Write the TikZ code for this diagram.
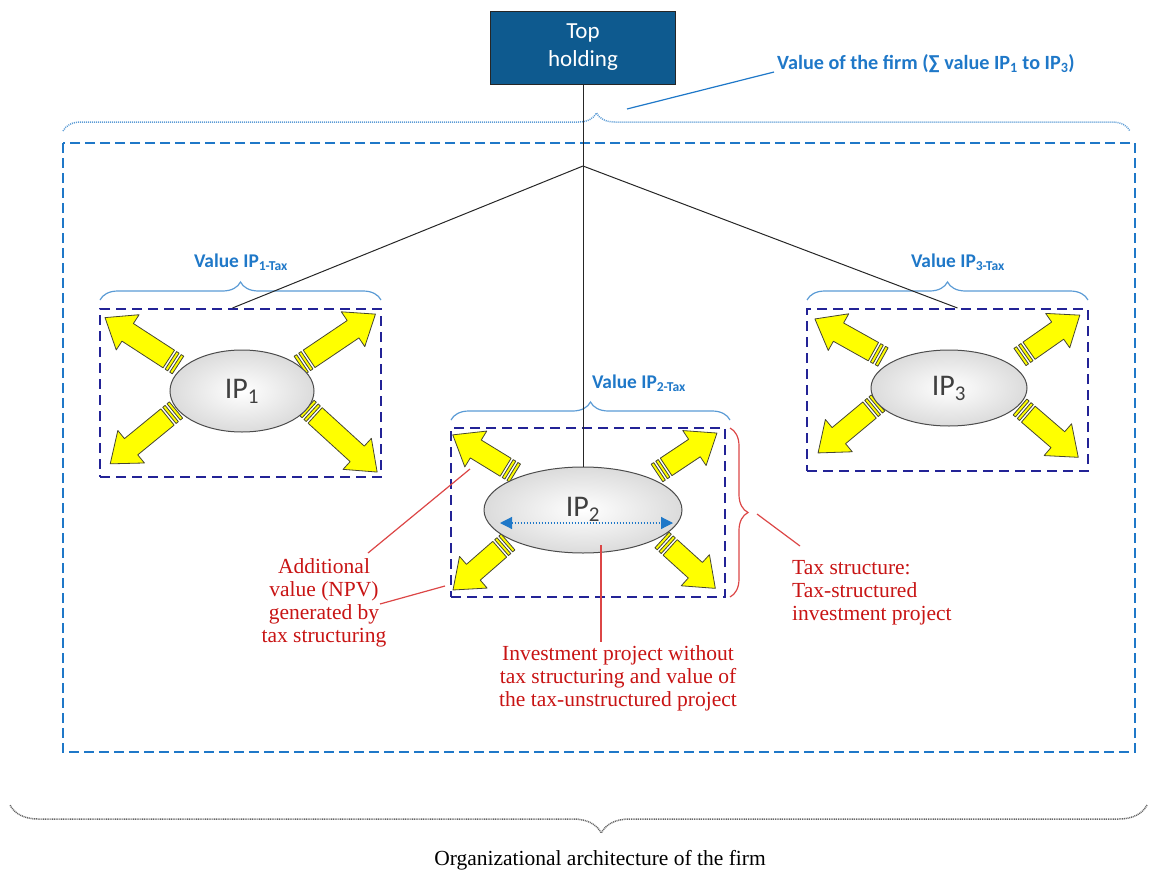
\documentclass[tikz,border=0pt]{standalone}
\usepackage{fontspec}
\setmainfont{Liberation Serif}
\newfontfamily\calib{Carlito}
\usetikzlibrary{decorations.pathreplacing,calc,arrows.meta,shapes.geometric}
\definecolor{holdblue}{RGB}{14,90,143}
\definecolor{lblblue}{RGB}{31,120,200}
\definecolor{brblue}{RGB}{91,155,213}
\definecolor{ipnavy}{RGB}{35,35,150}
\definecolor{redtxt}{RGB}{200,20,20}
\definecolor{redln}{RGB}{220,70,70}
\definecolor{yel}{RGB}{255,255,0}
\definecolor{yelline}{RGB}{70,70,50}
\tikzset{
  conn/.style={draw=black!85, line width=1pt},
  ipbox/.style={draw=ipnavy, line width=2pt, dash pattern=on 10pt off 6pt, inner sep=0},
  ipell/.style={ellipse, draw=black!70, line width=1pt, inner color=white, outer color=black!14,
    font=\calib\fontsize{30}{30}\selectfont, text=black!75, inner sep=0},
  yfill/.style={fill=yel, draw=yelline, line width=0.8pt, line join=round},
  blbl/.style={text=lblblue, font=\calib\bfseries\fontsize{19.4}{21}\selectfont, inner sep=0},
  bluebrace/.style={draw=brblue, line width=1.2pt, decorate, decoration={brace, amplitude=18pt}},
  redt/.style={text=redtxt, font=\fontsize{21.5}{23}\selectfont, align=center, inner sep=0},
  redl/.style={draw=redln, line width=1.2pt},
}
\newcommand{\yarr}[4]{%
  \begin{scope}[shift={(#1,#2)},rotate=#3]
    \filldraw[yfill] (0,-10.5) rectangle (3,10.5);
    \filldraw[yfill] (5.5,-10.5) rectangle (8.5,10.5);
    \filldraw[yfill] (11,-10.5) -- ({#4-27},-10.5) -- ({#4-27},-21) -- (#4,0) -- ({#4-27},21) -- ({#4-27},10.5) -- (11,10.5) -- cycle;
  \end{scope}}
\begin{document}
\begin{tikzpicture}[x=1pt,y=-1pt]
\useasboundingbox (0,0) rectangle (1149,870);
% outer frame
\draw[lblblue, line width=1.5pt, dash pattern=on 10pt off 5pt] (63,143) rectangle (1135,752);
% outer dotted brace
\draw[brblue, line width=1.5pt, dash pattern=on 1pt off 1pt, decorate, decoration={brace, amplitude=18pt}]
  (63,131) -- (1130,131);
% top holding
\node[draw=black!85, line width=1pt, fill=holdblue, text=white, font=\calib\fontsize{23}{28}\selectfont,
  align=center, minimum width=185, minimum height=73, inner sep=0] (top) at (583,47.5) {Top\\holding};
\coordinate (j) at (583,166);
% firm label
\node[blbl, font=\calib\bfseries\fontsize{20.2}{22}\selectfont, anchor=base] (firm) at (926,69)
  {Value of the firm (∑ value IP\textsubscript{1} to IP\textsubscript{3})};
\coordinate (fl) at (627,109);
\draw[draw=lblblue, line width=1.2pt] (fl) -- ($(firm.base west)+(-3,3)$);
% IP boxes
\node[ipbox, minimum width=281, minimum height=168] (b1) at (240.5,393) {};
\node[ipbox, minimum width=274, minimum height=169] (b2) at (588,512.5) {};
\node[ipbox, minimum width=281, minimum height=162] (b3) at (947.5,390) {};
% braces above boxes
\draw[bluebrace] (100,300) -- (381,300);
\draw[bluebrace] (451,420) -- (730,420);
\draw[bluebrace] (807,300) -- (1088,300);
% arrows
\yarr{178}{365}{147}{87}
\yarr{300}{365}{34}{91}
\yarr{176}{410}{-140.7}{85}
\yarr{307}{408}{-42.4}{95}
\yarr{515}{473}{148.5}{73}
\yarr{657}{473}{33.7}{72}
\yarr{508}{542}{-138.9}{73}
\yarr{662}{540}{-42.2}{72}
\yarr{883}{357}{150.8}{78}
\yarr{1020}{357}{35}{73}
\yarr{878}{403}{-140.2}{78}
\yarr{1020}{407}{-40.8}{77}
% ellipses
\node[ipell, minimum width=144, minimum height=82] (e1) at (242,391) {IP\textsubscript{1}};
\node[ipell, minimum width=198, minimum height=86] (e2) at (583,510) {\raisebox{6pt}{IP\textsubscript{2}}};
\node[ipell, minimum width=156, minimum height=76] (e3) at (949,388) {IP\textsubscript{3}};
% connectors
\draw[conn] (top.south) -- (j);
\draw[conn] (j) -- ($(b1.north)+(-8,0)$);
\draw[conn] (j) -- ($(b3.north)+(10,0)$);
\draw[conn] (j) -- (e2.north);
% blue double arrow
\coordinate (da1) at ($(e2.center)+(-83,13)$);
\coordinate (da2) at ($(e2.center)+(90,13)$);
\draw[lblblue, line width=1.2pt, dash pattern=on 1.5pt off 1.5pt,
  {Triangle[length=12pt,width=12pt]}-{Triangle[length=12pt,width=12pt]}] (da1) -- (da2);
% blue labels
\node[blbl, anchor=base] (l1) at (241,267) {Value IP\textsubscript{1-Tax}};
\node[blbl, anchor=base] (l2) at (639,388) {Value IP\textsubscript{2-Tax}};
\node[blbl, anchor=base] (l3) at (958,267) {Value IP\textsubscript{3-Tax}};
% red brace
\draw[draw=redln, line width=1.2pt, decorate, decoration={brace, amplitude=18pt}] (730,428) -- (730,597);
% red texts
\node[redt, anchor=north] (addl) at (324,558) {Additional\\value (NPV)\\generated by\\tax structuring};
\node[redt, anchor=north] (inv) at (618,645) {Investment project without\\tax structuring and value of\\the tax-unstructured project};
\node[redt, align=left, anchor=north west] (tax) at (792,560) {Tax structure:\\Tax-structured\\investment project};
% red lines
\coordinate (r1a) at (368,553); \coordinate (r1b) at (470,469);
\coordinate (r2a) at (380,604); \coordinate (r2b) at (445,586);
\coordinate (r3a) at (601,545); \coordinate (r3b) at (601,642);
\coordinate (r4a) at (757,514); \coordinate (r4b) at (800,546);
\draw[redl] (r1a) -- (r1b);
\draw[redl] (r2a) -- (r2b);
\draw[redl] (r3a) -- (r3b);
\draw[redl] (r4a) -- (r4b);
% bottom brace
\draw[black!60, line width=1.5pt, dash pattern=on 1pt off 0.8pt, decorate, decoration={brace, amplitude=28pt, aspect=0.48}]
  (1147,805) -- (10,805);
\node[font=\fontsize{21.5}{23}\selectfont, anchor=base, inner sep=0] (org) at (600,865) {Organizational architecture of the firm};
\end{tikzpicture}
\end{document}
